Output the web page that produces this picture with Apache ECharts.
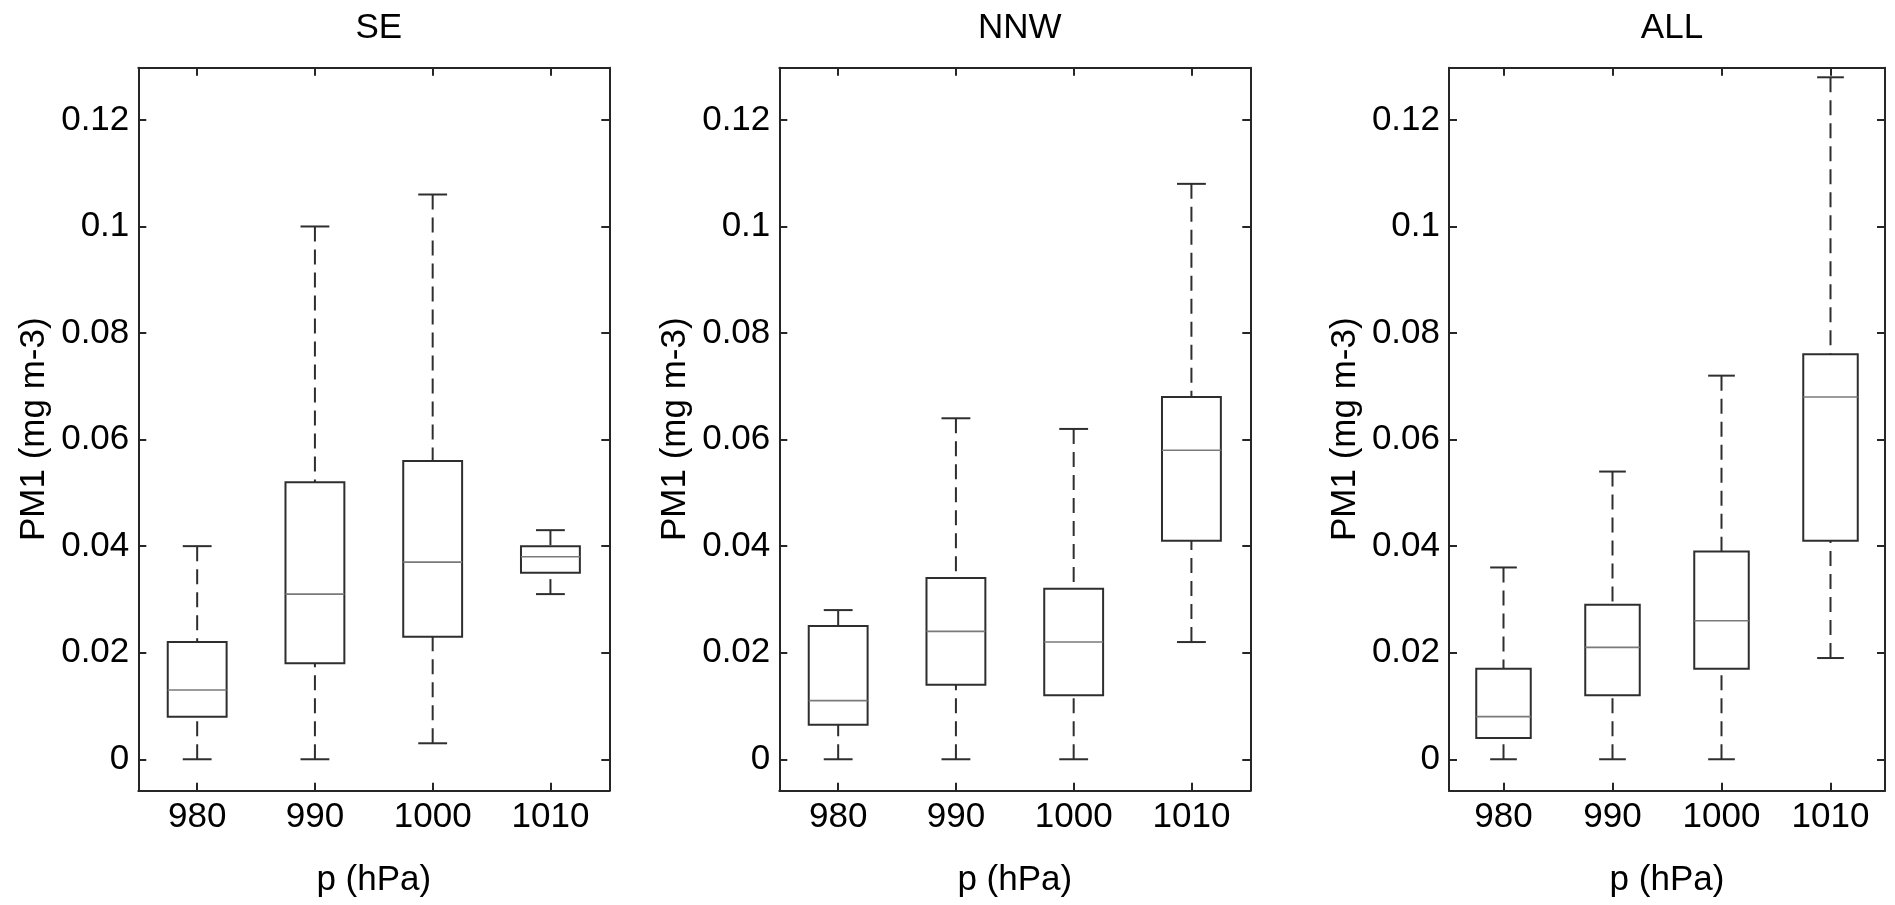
<!DOCTYPE html>
<html>
<head>
<meta charset="utf-8">
<script src="https://cdn.jsdelivr.net/npm/echarts@6/dist/echarts.min.js"></script>
<style>
html,body{margin:0;padding:0;background:#fff;}
#chart{width:1895px;height:905px;}
</style>
</head>
<body>
<div id="chart"></div>
<script>
// ---- data ----
const categories = ['980', '990', '1000', '1010'];
const panelTitles = ['SE', 'NNW', 'ALL'];
const yTicks = [0, 0.02, 0.04, 0.06, 0.08, 0.1, 0.12];

const seLow  = [0, 0, 0.003, 0.031];
const seQ1   = [0.008, 0.018, 0.023, 0.035];
const seMed  = [0.013, 0.031, 0.037, 0.038];
const seQ3   = [0.022, 0.052, 0.056, 0.040];
const seHigh = [0.040, 0.100, 0.106, 0.043];

const nnwLow  = [0, 0, 0, 0.022];
const nnwQ1   = [0.0065, 0.014, 0.012, 0.041];
const nnwMed  = [0.011, 0.024, 0.022, 0.058];
const nnwQ3   = [0.025, 0.034, 0.032, 0.068];
const nnwHigh = [0.028, 0.064, 0.062, 0.108];

const allLow  = [0, 0, 0, 0.019];
const allQ1   = [0.004, 0.012, 0.017, 0.041];
const allMed  = [0.008, 0.021, 0.026, 0.068];
const allQ3   = [0.017, 0.029, 0.039, 0.076];
const allHigh = [0.036, 0.054, 0.072, 0.128];

const panels = [
  [seLow, seQ1, seMed, seQ3, seHigh],
  [nnwLow, nnwQ1, nnwMed, nnwQ3, nnwHigh],
  [allLow, allQ1, allMed, allQ3, allHigh]
];

// ---- layout / style ----
const FONT = "'Liberation Sans', Arial, sans-serif";
const FS = 35;
const AX = '#262626';
const grids = [
  { left: 138.3, top: 67.7, width: 471, height: 723 },
  { left: 779.3, top: 67.7, width: 471, height: 723 },
  { left: 1449, top: 67.7, width: 436, height: 723 }
];

function fmt(v) { return String(+Number(v).toFixed(4)); }

function renderBox(params, api) {
  const x = api.value(0);
  const lo = api.value(1), q1 = api.value(2), med = api.value(3), q3 = api.value(4), hi = api.value(5);
  const band = api.size([1, 0])[0];
  const bw = band * 0.5, cw = band * 0.245;
  const pLo = api.coord([x, lo]), pQ1 = api.coord([x, q1]), pMed = api.coord([x, med]);
  const pQ3 = api.coord([x, q3]), pHi = api.coord([x, hi]);
  const cx = pMed[0];
  const solid = { stroke: '#2e2e2e', lineWidth: 2, fill: null };
  const dashed = { stroke: '#2e2e2e', lineWidth: 2, lineDash: [15, 8], fill: null };
  return {
    type: 'group',
    children: [
      { type: 'line', shape: { x1: cx, y1: pHi[1], x2: cx, y2: pQ3[1] }, style: dashed },
      { type: 'line', shape: { x1: cx, y1: pLo[1], x2: cx, y2: pQ1[1] }, style: dashed },
      { type: 'line', shape: { x1: cx - cw / 2, y1: pHi[1], x2: cx + cw / 2, y2: pHi[1] }, style: solid },
      { type: 'line', shape: { x1: cx - cw / 2, y1: pLo[1], x2: cx + cw / 2, y2: pLo[1] }, style: solid },
      { type: 'rect', shape: { x: cx - bw / 2, y: pQ3[1], width: bw, height: pQ1[1] - pQ3[1] },
        style: { stroke: '#2e2e2e', lineWidth: 2, fill: '#fff' } },
      { type: 'line', shape: { x1: cx - bw / 2, y1: pMed[1], x2: cx + bw / 2, y2: pMed[1] },
        style: { stroke: '#7a7a7a', lineWidth: 1.6 } }
    ]
  };
}

const option = {
  backgroundColor: '#fff',
  animation: false,
  title: [],
  grid: [],
  xAxis: [],
  yAxis: [],
  series: []
};

grids.forEach((g, i) => {
  option.grid.push(Object.assign({ containLabel: false }, g));
  option.title.push({
    text: panelTitles[i],
    left: g.left + g.width / 2,
    top: 6,
    textAlign: 'center',
    textStyle: { fontFamily: FONT, fontSize: FS, fontWeight: 'normal', color: '#000' }
  });
  // bottom x axis
  option.xAxis.push({
    type: 'category', gridIndex: i, data: categories, position: 'bottom',
    boundaryGap: true,
    name: 'p (hPa)', nameLocation: 'middle', nameGap: 72,
    nameTextStyle: { fontFamily: FONT, fontSize: FS, color: '#000' },
    axisLine: { show: true, onZero: false, lineStyle: { color: AX, width: 2 } },
    axisTick: { show: true, inside: true, alignWithLabel: true, length: 8, lineStyle: { color: AX, width: 2 } },
    axisLabel: { show: true, margin: 9, fontFamily: FONT, fontSize: FS, color: '#000' },
    splitLine: { show: false }
  });
  // top mirrored x axis
  option.xAxis.push({
    type: 'category', gridIndex: i, data: categories, position: 'top',
    boundaryGap: true,
    axisLine: { show: true, onZero: false, lineStyle: { color: AX, width: 2 } },
    axisTick: { show: true, inside: true, alignWithLabel: true, length: 8, lineStyle: { color: AX, width: 2 } },
    axisLabel: { show: false },
    splitLine: { show: false }
  });
  // left y axis
  option.yAxis.push({
    type: 'value', gridIndex: i, position: 'left', min: -0.0059, max: 0.1298,
    name: 'PM1 (mg m-3)', nameLocation: 'middle', nameGap: 86, nameRotate: 90,
    nameTextStyle: { fontFamily: FONT, fontSize: FS, color: '#000' },
    axisLine: { show: true, onZero: false, lineStyle: { color: AX, width: 2 } },
    axisTick: { show: true, inside: true, length: 8, customValues: yTicks, lineStyle: { color: AX, width: 2 } },
    axisLabel: { show: true, margin: 9, customValues: yTicks, fontFamily: FONT, fontSize: FS, color: '#000',
      formatter: fmt },
    splitLine: { show: false }
  });
  // right mirrored y axis
  option.yAxis.push({
    type: 'value', gridIndex: i, position: 'right', min: -0.0059, max: 0.1298,
    axisLine: { show: true, onZero: false, lineStyle: { color: AX, width: 2 } },
    axisTick: { show: true, inside: true, length: 8, customValues: yTicks, lineStyle: { color: AX, width: 2 } },
    axisLabel: { show: false },
    splitLine: { show: false }
  });
  const d = panels[i];
  const data = categories.map((c, k) => [k, d[0][k], d[1][k], d[2][k], d[3][k], d[4][k]]);
  option.series.push({
    type: 'custom',
    xAxisIndex: i * 2,
    yAxisIndex: i * 2,
    renderItem: renderBox,
    encode: { x: 0, y: [1, 2, 3, 4, 5] },
    data: data,
    clip: false
  });
});

const chart = echarts.init(document.getElementById('chart'), null, { renderer: 'canvas' });
chart.setOption(option);
</script>
</body>
</html>
